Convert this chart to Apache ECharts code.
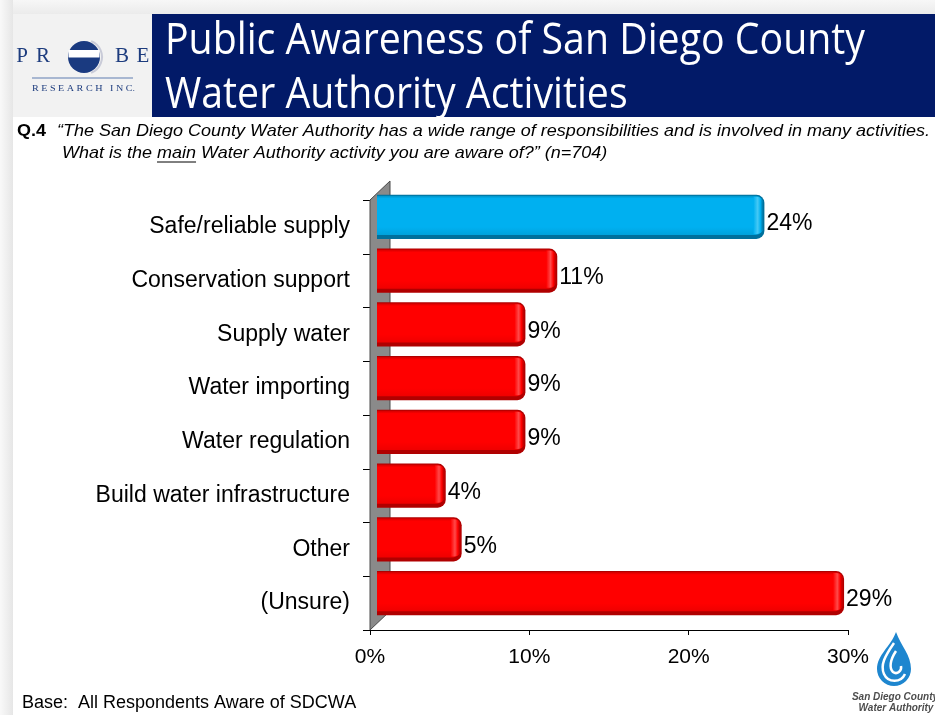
<!DOCTYPE html>
<html><head><meta charset="utf-8">
<script src="https://cdn.jsdelivr.net/npm/echarts@6/dist/echarts.min.js"></script>
<style>html,body{margin:0;padding:0;background:#fff}#c{width:935px;height:715px}</style>
</head><body><div id="c"></div>
<script>
// ---- data ----
const categories = ['Safe/reliable supply','Conservation support','Supply water','Water importing','Water regulation','Build water infrastructure','Other','(Unsure)'];
const values = [24, 11, 9, 9, 9, 4, 5, 29];
const highlightIndex = [0];
const xTicks = [0, 10, 20, 30];
const titleLines = ['Public Awareness of San Diego County', 'Water Authority Activities'];
const questionLabel = 'Q.4';
const questionLine1 = '\u201CThe San Diego County Water Authority has a wide range of responsibilities and is involved in many activities.';
const questionLine2Parts = ['What is the ', 'main', ' Water Authority activity you are aware of?\u201D (n=704)'];
const baseNote = 'Base:  All Respondents Aware of SDCWA';
const logoLetters = ['P', 'R', 'B', 'E'];
const logoSub = 'R E S E A R C H   I N C.';
const sdcwaLines = ['San Diego County', 'Water Authority'];

// ---- helpers ----
const SANS = '"Liberation Sans", Arial, sans-serif';
const NARROW = '"Liberation Sans Narrow", "Liberation Sans", Arial, sans-serif';
const TITLEF = '"Open Sans", "Noto Sans", sans-serif';
const SERIF = '"Liberation Serif", "DejaVu Serif", serif';
const mctx = document.createElement('canvas').getContext('2d');
function tw(text, font){ mctx.font = font; return mctx.measureText(text).width; }

const BLUE = {edge:'#00709c', top:'#0094c8', face:'#00b0f0', low:'#00a2dc', hi:'#45c9f5'};
const RED  = {edge:'#b00000', top:'#d20000', face:'#ff0000', low:'#ef0000', hi:'#ff4a4a'};

const chart = echarts.init(document.getElementById('c'), null, {renderer:'canvas'});

function renderWall(params, api){
  const cs = params.coordSys;
  const x = cs.x, y = cs.y, h = cs.height;
  return {type:'polygon', shape:{points:[[x, y+h],[x, y],[x+20, y-19],[x+20, y+h-19]]},
    style:{fill:'#8a8a8a', stroke:'#4a4a4a', lineWidth:1}};
}

function renderBar(params, api){
  const i = params.dataIndex;
  const v = api.value(0), c = api.value(1);
  const p0 = api.coord([0, c]), p1 = api.coord([v, c]);
  const band = api.size([0, 1])[1];
  const h = band * 0.82;
  const x0 = p0[0] + 7, x1 = p1[0] + 12;
  const y0 = p0[1] - 10 - h/2;
  const w = x1 - x0;
  const pal = highlightIndex.indexOf(i) >= 0 ? BLUE : RED;
  return {type:'group', children:[
    {type:'rect', shape:{x:x0, y:y0, width:w, height:h, r:[0,8,8,0]}, style:{fill:pal.edge}},
    {type:'rect', shape:{x:x0, y:y0+1, width:w-1.5, height:h-5, r:[0,7,7,0]},
      style:{fill:new echarts.graphic.LinearGradient(0,0,0,1,[
        {offset:0, color:pal.top},{offset:0.07, color:pal.face},{offset:0.8, color:pal.face},{offset:1, color:pal.low}])}},
    {type:'rect', shape:{x:x1-11, y:y0+2, width:9.5, height:h-7, r:[0,6,6,0]},
      style:{fill:new echarts.graphic.LinearGradient(0,0,1,0,[
        {offset:0, color:pal.face},{offset:0.45, color:pal.hi},{offset:0.75, color:pal.face},{offset:1, color:pal.edge}])}},
    {type:'text', style:{text: v + '%', x:x1+2, y:y0+h/2+7, verticalAlign:'middle', align:'left',
      fontSize:23, fontFamily:SANS, fill:'#000'}}
  ]};
}

function renderLogo(params, api){
  return {type:'group', children:[
    {type:'path', shape:{pathData:'M896 632 C891 646 877 655 877 669 A17 17 0 0 0 911 669 C911 655 901 646 896 632 Z'}, style:{fill:'#1e86cf'}},
    {type:'path', shape:{pathData:'M894 643 C885 656 880 665 884 674 C888 683 901 683 905 674'}, style:{stroke:'#fff', lineWidth:2.5, fill:null}},
    {type:'path', shape:{pathData:'M896 651 C890 660 889 668 893 672 C897 675 902 671 901 666'}, style:{stroke:'#fff', lineWidth:2.5, fill:null}},
    {type:'text', style:{text:sdcwaLines[0], x:895, y:697, fontSize:10, fontWeight:'bold', fontStyle:'italic', fontFamily:SANS, fill:'#4d4d4d', align:'center', verticalAlign:'middle'}},
    {type:'text', style:{text:sdcwaLines[1], x:896, y:708, fontSize:10, fontWeight:'bold', fontStyle:'italic', fontFamily:SANS, fill:'#4d4d4d', align:'center', verticalAlign:'middle'}}
  ]};
}

// ---- text measurements for header ----
const qFont = 'italic 17px ' + NARROW;
const qScale = 873 / tw(questionLine1, qFont);
const qW1 = tw(questionLine2Parts[0], qFont) * qScale;
const qW2 = tw(questionLine2Parts[1], qFont) * qScale;
const tFont = '44px ' + TITLEF;
const tScale = Math.min(1, 700 / tw(titleLines[0], tFont));
const subFont = '8px ' + SERIF;
const subScale = 103 / tw(logoSub, subFont);

const graphics = [
  {type:'rect', shape:{x:0, y:0, width:935, height:14}, style:{fill:new echarts.graphic.LinearGradient(0,0,0,1,[{offset:0,color:'#f7f7f7'},{offset:1,color:'#ebebeb'}])}, z:-10},
  {type:'rect', shape:{x:0, y:0, width:13, height:715}, style:{fill:new echarts.graphic.LinearGradient(0,0,1,0,[{offset:0,color:'#f9f9f9'},{offset:1,color:'#e6e6e6'}])}, z:-10},
  {type:'rect', shape:{x:13, y:14, width:139, height:103}, style:{fill:'#f2f2f2'}, z:-9},
  {type:'rect', shape:{x:152, y:14, width:783, height:103}, style:{fill:'#021a68'}, z:-9},
  {type:'text', x:165, y:41, scaleX:tScale, style:{text:titleLines[0], fontSize:44, fontFamily:TITLEF, fill:'#fff', verticalAlign:'middle'}},
  {type:'text', x:165, y:95, scaleX:tScale, style:{text:titleLines[1], fontSize:44, fontFamily:TITLEF, fill:'#fff', verticalAlign:'middle'}},
  {type:'text', x:22, y:56, style:{text:logoLetters[0], fontSize:21, fontFamily:SERIF, fill:'#1d3c7e', align:'center', verticalAlign:'middle'}},
  {type:'text', x:43, y:56, style:{text:logoLetters[1], fontSize:21, fontFamily:SERIF, fill:'#1d3c7e', align:'center', verticalAlign:'middle'}},
  {type:'text', x:122, y:56, style:{text:logoLetters[2], fontSize:21, fontFamily:SERIF, fill:'#1d3c7e', align:'center', verticalAlign:'middle'}},
  {type:'text', x:143, y:56, style:{text:logoLetters[3], fontSize:21, fontFamily:SERIF, fill:'#1d3c7e', align:'center', verticalAlign:'middle'}},
  {type:'arc', shape:{cx:85, cy:57, r:17, startAngle:-1.2, endAngle:1.2}, style:{stroke:'#c9cbd8', lineWidth:2, fill:null}},
  {type:'circle', shape:{cx:84, cy:57, r:16}, style:{fill:'#1a3a80'}},
  {type:'rect', shape:{x:68.5, y:50, width:31, height:7.5}, style:{fill:'#ffffff'}},
  {type:'line', shape:{x1:32, y1:78, x2:133, y2:78}, style:{stroke:'#8fa3c6', lineWidth:1.5}},
  {type:'text', x:32, y:89, scaleX:subScale, style:{text:logoSub, font:subFont, fill:'#1d3c7e', verticalAlign:'middle'}},
  {type:'text', x:17, y:131, scaleX:qScale, style:{text:questionLabel, fontSize:17, fontWeight:'bold', fontFamily:NARROW, fill:'#000', verticalAlign:'middle'}},
  {type:'text', x:57, y:131, scaleX:qScale, style:{text:questionLine1, fontSize:17, fontStyle:'italic', fontFamily:NARROW, fill:'#000', verticalAlign:'middle'}},
  {type:'text', x:62, y:153, scaleX:qScale, style:{text:questionLine2Parts.join(''), fontSize:17, fontStyle:'italic', fontFamily:NARROW, fill:'#000', verticalAlign:'middle'}},
  {type:'line', shape:{x1:62+qW1, y1:162, x2:62+qW1+qW2, y2:162}, style:{stroke:'#000', lineWidth:1}},
  {type:'text', x:22, y:703, style:{text:baseNote, fontSize:18, fontFamily:SANS, fill:'#000', verticalAlign:'middle'}}
];

chart.setOption({
  animation:false,
  backgroundColor:'#ffffff',
  grid:{left:370, top:200, width:478, height:430, containLabel:false},
  xAxis:{type:'value', min:xTicks[0], max:xTicks[xTicks.length-1], interval:xTicks[1]-xTicks[0],
    axisLine:{show:true, lineStyle:{color:'#000', width:1}},
    axisTick:{show:true, length:5, lineStyle:{color:'#000'}},
    splitLine:{show:false},
    axisLabel:{formatter:'{value}%', fontSize:21, fontFamily:SANS, color:'#000', margin:17}},
  yAxis:{type:'category', data:categories, inverse:true,
    axisLine:{show:true, lineStyle:{color:'#000', width:1}},
    axisTick:{show:true, length:7, lineStyle:{color:'#000'}},
    axisLabel:{fontSize:23, fontFamily:SANS, color:'#000', margin:20, padding:[5,0,0,0]}},
  graphic:graphics,
  series:[
    {type:'custom', renderItem:renderWall, data:[[0,0]], encode:{x:0, y:1}, clip:false, z:1, silent:true},
    {type:'custom', renderItem:renderBar, data:values.map((v,i)=>[v,i]), encode:{x:0, y:1}, clip:false, z:3, silent:true},
    {type:'custom', renderItem:renderLogo, data:[[0,0]], encode:{x:0, y:1}, clip:false, z:4, silent:true}
  ]
});
</script></body></html>
